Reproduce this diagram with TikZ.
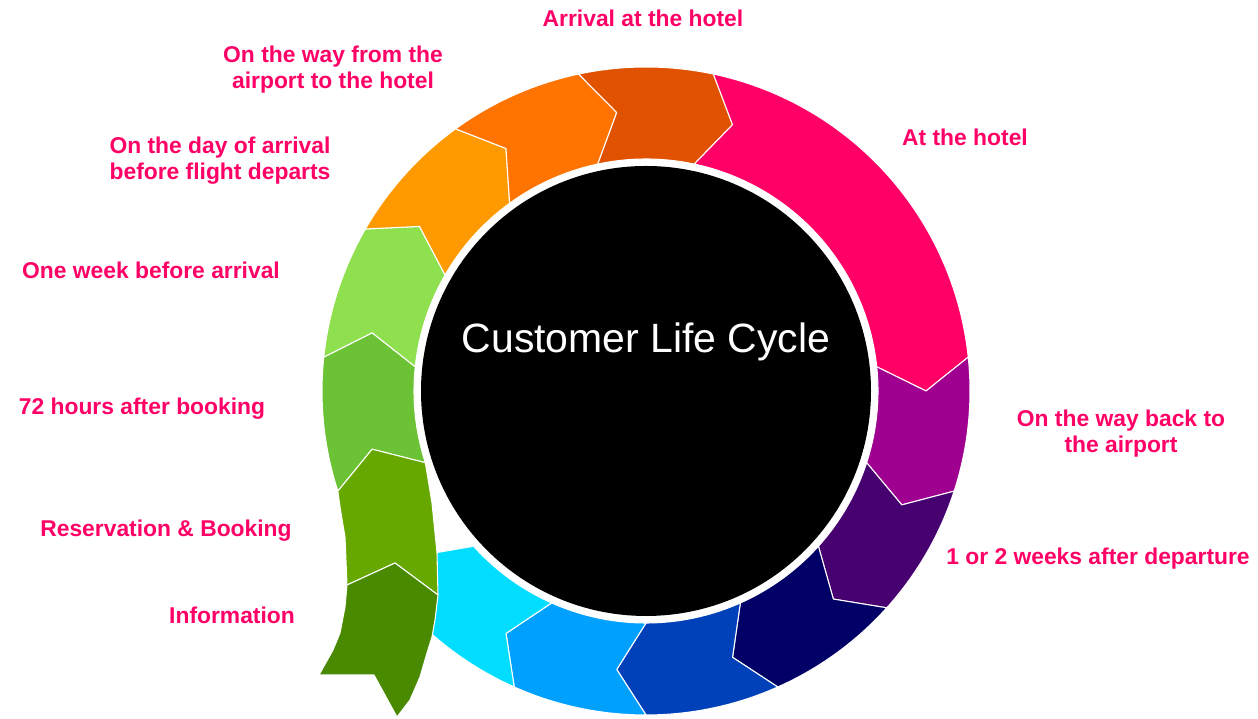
\documentclass[tikz,border=0pt]{standalone}
\usepackage{fontspec}
\setmainfont{Liberation Sans}
\usetikzlibrary{positioning}
\definecolor{green1}	{RGB}{74,138,0}
\definecolor{green2}	{RGB}{102,168,0}
\definecolor{green3}	{RGB}{107,194,52}
\definecolor{green4}	{RGB}{142,224,78}
\definecolor{orange1}	{RGB}{255,153,0}
\definecolor{orange2}	{RGB}{255,115,0}
\definecolor{orange3}	{RGB}{224,82,0}
\definecolor{pink1}		{RGB}{255,0,102}
\definecolor{purple1}	{RGB}{160,0,144}
\definecolor{purple2}	{RGB}{71,0,112}
\definecolor{navy1}		{RGB}{0,0,102}
\definecolor{blue1}		{RGB}{0,64,184}
\definecolor{blue2}		{RGB}{0,160,255}
\definecolor{cyan1}		{RGB}{0,221,255}
\newcommand{\segout}{324}
\newcommand{\segin}{232}
\newcommand{\segmid}{280}
% colour, from angle, to angle
\newcommand{\chevseg}[3]{\filldraw[seg, fill=#1] (#2:\segout) arc[start angle=#2, end angle=#3, radius=\segout] -- ({#3-6}:\segmid) -- (#3:\segin) arc[start angle=#3, end angle=#2, radius=\segin] -- ({#2-6}:\segmid) -- cycle;}
\tikzstyle{seg}=	[draw=white, line width=0.6pt, line join=round]
\tikzstyle{lbl}=	[text=pink1, inner sep=0pt, align=center, font=\bfseries\fontsize{13}{14.8}\selectfont]
\tikzstyle{ctitle}=	[text=white, inner sep=0pt, font=\fontsize{23.3}{26}\selectfont]

\begin{document}
\begin{tikzpicture}[x=0.02cm, y=0.02cm]
	\useasboundingbox (0,0) rectangle (1258,719);
	\coordinate (c) at (646,328);

	%%% ring
	\begin{scope}[shift={(c)}]
	% segments
	\chevseg{green3}{198}{174}
	\chevseg{green4}{174}{150}
	\chevseg{orange1}{150}{126}
	\chevseg{orange2}{126}{102}
	\chevseg{orange3}{102}{78}
	\chevseg{pink1}{78}{6}
	\chevseg{purple1}{6}{-18}
	\chevseg{purple2}{-18}{-42}
	\chevseg{navy1}{-42}{-66}
	\chevseg{blue1}{-66}{-90}
	\chevseg{blue2}{-90}{-114}
	\chevseg{cyan1}{-114}{-138}

	% tail
	\filldraw[seg, fill=green2] (198:\segout) -- (192:\segmid) -- (198:\segin)
		-- (-214,-112) -- (-209,-162) -- (-208,-204)
		-- (-251,-172) -- (-299,-194)
		-- (-301,-146) -- (-306,-116) -- cycle;
	\filldraw[seg, fill=green1] (-299,-194) -- (-251,-172) -- (-208,-204)
		-- (-211,-229) -- (-214,-246) -- (-219,-262) -- (-226,-286) -- (-236,-309) -- (-249,-326)
		-- (-272,-284) -- (-327,-284)
		-- (-313,-259) -- (-306,-242) -- (-301,-216) -- cycle;
	\end{scope}

	% centre
	\fill[black] (c) circle[radius=225];
	\node[ctitle] (cl) at (646,377) {Customer Life Cycle};

	%%% labels
	\node[lbl] (l1) at (232,104) {Information};
	\node[lbl] (l2) at (166,188) {Reservation \& Booking};
	\node[lbl] (l3) at (142,310) {72 hours after booking};
	\node[lbl] (l4) at (151,449) {One week before arrival};
	\node[lbl] (l5) at (220,558) {On the day of arrival\\before flight departs};
	\node[lbl] (l6) at (333,649) {On the way from the\\airport to the hotel};
	\node[lbl] (l7) at (643,701) {Arrival at the hotel};
	\node[lbl] (l8) at (965,582) {At the hotel};
	\node[lbl] (l9) at (1121,285) {On the way back to\\the airport};
	\node[lbl] (l10) at (1098,160) {1 or 2 weeks after departure};

\end{tikzpicture}
\end{document}
